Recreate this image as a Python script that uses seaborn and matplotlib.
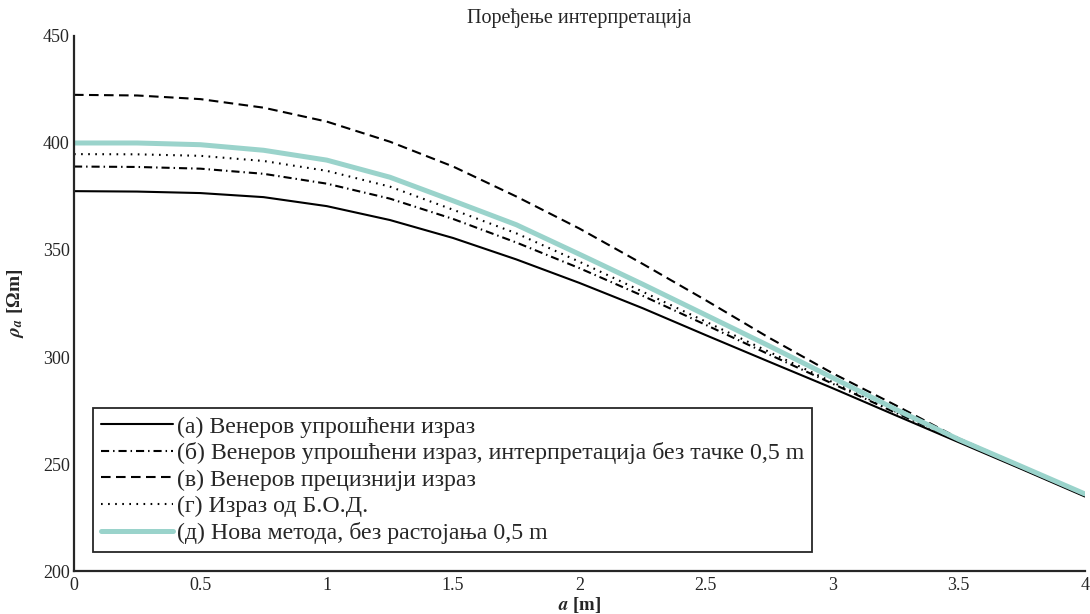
import matplotlib
matplotlib.use("Agg")
import matplotlib.pyplot as plt
import numpy as np
import pandas as pd
import seaborn as sns

# Electrode spacing a [m]
a_m = [0.0, 0.25, 0.5, 0.75, 1.0, 1.25, 1.5, 1.75, 2.0,
       2.25, 2.5, 2.75, 3.0, 3.25, 3.5, 3.75, 4.0]

# Apparent resistivity rho_a [Ohm m] for each interpretation
rho_a_simplified = [377.5, 377.3, 376.6, 374.7, 370.5, 364.0, 355.6, 345.6, 334.6,
                    322.8, 310.2, 297.8, 285.5, 272.8, 260.2, 247.6, 234.8]
rho_b_simplified_no05 = [389.0, 388.8, 388.0, 385.6, 381.0, 374.0, 364.5, 353.5, 341.5,
                         328.6, 315.0, 301.2, 287.6, 274.0, 260.8, 247.9, 235.2]
rho_v_precise = [422.5, 422.2, 420.5, 416.5, 410.0, 400.6, 389.0, 375.0, 360.0,
                 343.5, 326.5, 309.0, 292.5, 277.5, 262.0, 249.0, 235.5]
rho_g_bod = [394.8, 394.7, 394.0, 391.6, 387.0, 379.6, 368.8, 357.8, 344.5,
             330.5, 316.5, 302.4, 288.3, 274.5, 261.2, 248.4, 235.5]
rho_d_new = [400.0, 400.0, 399.2, 396.6, 392.0, 384.0, 373.0, 361.8, 348.0,
             334.0, 319.6, 305.2, 290.4, 275.6, 261.5, 248.8, 236.0]

series_labels = [
    "(а) Венеров упрошћени израз",
    "(б) Венеров упрошћени израз, интерпретација без тачке 0,5 m",
    "(в) Венеров прецизнији израз",
    "(г) Израз од Б.О.Д.",
    "(д) Нова метода, без растојања 0,5 m",
]
x_ticks = [0, 0.5, 1, 1.5, 2, 2.5, 3, 3.5, 4]
x_tick_labels = ["0", "0.5", "1", "1.5", "2", "2.5", "3", "3.5", "4"]
y_ticks = [200, 250, 300, 350, 400, 450]
title_text = "Поређење интерпретација"

sns.set_theme(style="white")
plt.rcParams["font.family"] = ["Liberation Serif", "DejaVu Serif"]
plt.rcParams["mathtext.fontset"] = "stix"
plt.rcParams["axes.unicode_minus"] = False

ink = "#262626"

fig = plt.figure(figsize=(10.9, 6.14), dpi=100)
ax = fig.add_axes([0.0679, 0.0700, 0.9275, 0.8714])

series = [rho_a_simplified, rho_b_simplified_no05, rho_v_precise, rho_g_bod, rho_d_new]
line_styles = [
    dict(color="black", lw=1.5, dashes=None),
    dict(color="black", lw=1.5, dashes=(3.9, 1.9, 0.7, 1.9)),
    dict(color="black", lw=1.5, dashes=(4.6, 2.6)),
    dict(color="black", lw=1.5, dashes=(0.8, 2.6)),
    dict(color="#9AD3CB", lw=3.6, dashes=None),
]

handles = []
for values, label, st in zip(series, series_labels, line_styles):
    df = pd.DataFrame({"a": a_m, "rho": values})
    sns.lineplot(data=df, x="a", y="rho", ax=ax, color=st["color"],
                 linewidth=st["lw"], legend=False)
    line = ax.lines[-1]
    if st["dashes"] is not None:
        line.set_dashes(st["dashes"])
    line.set_label(label)
    handles.append(line)

ax.set_xlim(0, 4)
ax.set_ylim(200, 450)
ax.set_xticks(x_ticks)
ax.set_xticklabels(x_tick_labels)
ax.set_yticks(y_ticks)

for side in ("top", "right"):
    ax.spines[side].set_visible(False)
for side in ("left", "bottom"):
    ax.spines[side].set_linewidth(1.6)
    ax.spines[side].set_color(ink)

ax.tick_params(axis="both", direction="in", length=8, width=1.6, color=ink,
               labelsize=13, labelcolor=ink)
ax.tick_params(axis="x", pad=4)
ax.tick_params(axis="y", pad=3)

ax.set_title(title_text, fontsize=14.5, color=ink, pad=9)
ax.set_xlabel(r"$\mathbfit{a}$ [m]", fontsize=13.5, fontweight="bold", color=ink, labelpad=1)
ax.set_ylabel(r"$\mathbfit{\rho_a}$ [Ωm]", fontsize=14, fontweight="bold", color=ink, labelpad=12)

leg = ax.legend(handles=handles, loc="lower left", bbox_to_anchor=(0.0191, 0.036),
                borderaxespad=0, fontsize=17.2, frameon=True, fancybox=False,
                framealpha=1, edgecolor=ink, handlelength=3.0, handletextpad=0.2,
                labelspacing=0.2, borderpad=0.32)
leg.get_frame().set_linewidth(1.3)
for t in leg.get_texts():
    t.set_color(ink)

fig.savefig("out.png", dpi=100, facecolor="white")
